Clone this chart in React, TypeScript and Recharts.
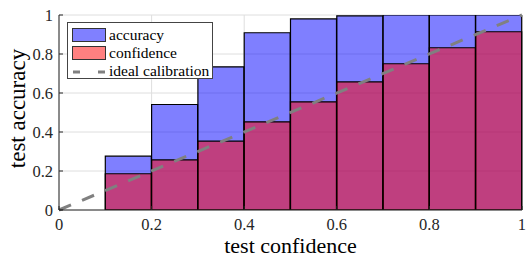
import { Bar, CartesianGrid, ComposedChart, ReferenceLine, Text, XAxis, YAxis } from "recharts";

const bins = ["0-0.1", "0.1-0.2", "0.2-0.3", "0.3-0.4", "0.4-0.5", "0.5-0.6", "0.6-0.7", "0.7-0.8", "0.8-0.9", "0.9-1"];
const binCenters = [0.05, 0.15, 0.25, 0.35, 0.45, 0.55, 0.65, 0.75, 0.85, 0.95];
const accuracy = [0, 0.276, 0.541, 0.734, 0.909, 0.98, 0.996, 1, 1, 1];
const confidence = [0, 0.186, 0.257, 0.353, 0.452, 0.555, 0.657, 0.75, 0.832, 0.914];
const ticks = [0, 0.2, 0.4, 0.6, 0.8, 1];
const idealX = [0, 1];
const idealY = [0, 1];

const data = bins.map((bin, i) => ({
  bin,
  center: binCenters[i],
  accuracy: accuracy[i],
  confidence: confidence[i],
}));

const FONT = "Liberation Serif, Times New Roman, DejaVu Serif, serif";
const INK = "#262626";

function Swatch({ color }: { color: string }) {
  return (
    <svg width={34} height={14} style={{ display: "block" }}>
      <rect x={0.5} y={0.5} width={33} height={13} fill={color} stroke="#333" strokeWidth={1} />
    </svg>
  );
}

function LegendBox() {
  const row = { display: "flex", alignItems: "center", height: 18, gap: 3 } as const;
  return (
    <div
      style={{
        position: "absolute",
        left: 67,
        top: 22,
        width: 146,
        height: 57,
        border: "1px solid #444",
        background: "#fff",
        boxSizing: "border-box",
        padding: "3px 0 0 4px",
        fontFamily: FONT,
        fontSize: 15.5,
        color: "#000",
        lineHeight: "18px",
      }}
    >
      <div style={row}>
        <Swatch color="#8080ff" />
        <span>accuracy</span>
      </div>
      <div style={row}>
        <Swatch color="#ff8080" />
        <span>confidence</span>
      </div>
      <div style={row}>
        <svg width={34} height={14} style={{ display: "block" }}>
          <line x1={1} y1={8} x2={33} y2={8} stroke="#808080" strokeWidth={3} strokeDasharray="7 18" />
        </svg>
        <span>ideal calibration</span>
      </div>
    </div>
  );
}

export default function App() {
  const tickStyle = { fontFamily: FONT, fontSize: 16.5, fill: INK };
  return (
    <div style={{ position: "absolute", left: 0, top: 0, width: 526, height: 257, background: "#fff", fontFamily: FONT }}>
      <ComposedChart
        width={526}
        height={257}
        data={data}
        barCategoryGap={0}
        barGap={0}
        margin={{ top: 15, right: 4, bottom: 0, left: 0 }}
        style={{ fontFamily: FONT }}
      >
        <CartesianGrid xAxisId="num" yAxisId="left" stroke="#dedede" strokeWidth={1} />
        <XAxis
          xAxisId="num"
          type="number"
          dataKey="center"
          domain={[0, 1]}
          allowDataOverflow
          ticks={ticks}
          height={47}
          tickSize={-4}
          tickMargin={12}
          tick={tickStyle}
          stroke={INK}
          label={{ value: "test confidence", position: "insideBottom", offset: 4, style: { fontFamily: FONT, fontSize: 22, fill: "#000" } }}
        />
        <XAxis xAxisId="a" dataKey="bin" hide height={0} />
        <XAxis xAxisId="b" dataKey="bin" hide height={0} />
        <XAxis
          xAxisId="top"
          orientation="top"
          type="number"
          dataKey="center"
          domain={[0, 1]}
          allowDataOverflow
          ticks={ticks}
          height={0}
          tickSize={-4}
          tick={false}
          stroke={INK}
        />
        <YAxis
          yAxisId="left"
          type="number"
          domain={[0, 1]}
          allowDataOverflow
          ticks={ticks}
          width={59}
          tickSize={-4}
          tickMargin={10}
          tick={tickStyle}
          stroke={INK}
          label={{
            content: (props: any) => {
              const vb = props.viewBox;
              return (
                <Text
                  x={17}
                  y={vb.y + vb.height / 2 - 4}
                  angle={-90}
                  textAnchor="middle"
                  verticalAnchor="middle"
                  style={{ fontFamily: FONT, fontSize: 23, fill: "#000" }}
                >
                  test accuracy
                </Text>
              );
            },
          }}
        />
        <YAxis
          yAxisId="right"
          orientation="right"
          type="number"
          domain={[0, 1]}
          allowDataOverflow
          ticks={ticks}
          width={0}
          tickSize={-4}
          tick={false}
          stroke={INK}
        />
        <Bar
          xAxisId="a"
          yAxisId="left"
          dataKey="accuracy"
          fill="#0000ff"
          fillOpacity={0.5}
          stroke="#000"
          strokeWidth={1.2}
          isAnimationActive={false}
        />
        <Bar
          xAxisId="b"
          yAxisId="left"
          dataKey="confidence"
          fill="#ff0000"
          fillOpacity={0.5}
          stroke="#000"
          strokeWidth={1.2}
          isAnimationActive={false}
        />
        <ReferenceLine
          xAxisId="num"
          yAxisId="left"
          segment={[
            { x: idealX[0], y: idealY[0] },
            { x: idealX[1], y: idealY[1] },
          ]}
          stroke="#808080"
          strokeWidth={3}
          strokeDasharray="13 12"
        />
      </ComposedChart>
      <LegendBox />
    </div>
  );
}
